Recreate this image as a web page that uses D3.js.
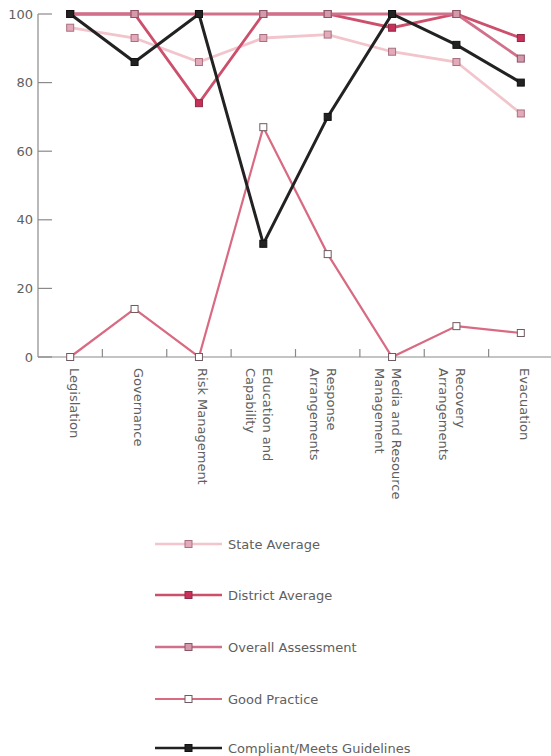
<!DOCTYPE html>
<html>
<head>
<meta charset="utf-8">
<script src="https://cdn.jsdelivr.net/npm/d3@7"></script>
<style>
  html, body { margin: 0; padding: 0; background: #fff; }
  svg { display: block; }
  text { font-family: "DejaVu Sans", sans-serif; fill: #606060; }
</style>
</head>
<body>
<svg id="chart" width="551" height="756"></svg>
<script>
const categories = ["Legislation", "Governance", "Risk Management", "Education and Capability",
  "Response Arrangements", "Media and Resource Management", "Recovery Arrangements", "Evacuation"];
const categoryLines = [["Legislation"], ["Governance"], ["Risk Management"], ["Education and", "Capability"],
  ["Response", "Arrangements"], ["Media and Resource", "Management"], ["Recovery", "Arrangements"], ["Evacuation"]];
const yTicks = [0, 20, 40, 60, 80, 100];

const stateAverage    = [96, 93, 86, 93, 94, 89, 86, 71];
const districtAverage = [100, 100, 74, 100, 100, 96, 100, 93];
const overallAssess   = [100, 100, 100, 100, 100, 100, 100, 87];
const goodPractice    = [0, 14, 0, 67, 30, 0, 9, 7];
const compliant       = [100, 86, 100, 33, 70, 100, 91, 80];

const seriesNames = ["State Average", "District Average", "Overall Assessment", "Good Practice", "Compliant/Meets Guidelines"];
const seriesValues = [stateAverage, districtAverage, overallAssess, goodPractice, compliant];
const seriesStyle = [
  { line: "#f2c4cc", width: 2.8, fill: "#e3aabb", stroke: "#a8707f" },
  { line: "#cc506c", width: 2.8, fill: "#c8305a", stroke: "#8e2a44" },
  { line: "#d0708a", width: 2.8, fill: "#d49aab", stroke: "#8a5566" },
  { line: "#d86a82", width: 2.2, fill: "#ffffff", stroke: "#6e5a60" },
  { line: "#222222", width: 3, fill: "#222222", stroke: "#111111" }
];

const svg = d3.select("#chart");
const x = d3.scaleBand().domain(categories).range([38, 553]).padding(0);
const y = d3.scaleLinear().domain([0, 100]).range([357, 14]);
const cx = c => x(c) + x.bandwidth() / 2;

// axes
const axisColor = "#8a8a8a";
svg.append("line").attr("x1", 38).attr("x2", 38).attr("y1", y(100)).attr("y2", y(0))
  .attr("stroke", axisColor).attr("stroke-width", 1.2);
svg.append("line").attr("x1", 38).attr("x2", 551).attr("y1", y(0)).attr("y2", y(0))
  .attr("stroke", axisColor).attr("stroke-width", 1.2);

yTicks.forEach(t => {
  svg.append("line").attr("x1", 38).attr("x2", 52).attr("y1", y(t)).attr("y2", y(t))
    .attr("stroke", axisColor).attr("stroke-width", 1.2);
  svg.append("text").attr("x", 33).attr("y", y(t)).attr("dy", "0.35em")
    .attr("text-anchor", "end").attr("font-size", 13).text(t);
});

categories.slice(1).forEach(c => {
  svg.append("line").attr("x1", x(c)).attr("x2", x(c)).attr("y1", y(0)).attr("y2", y(0) - 8)
    .attr("stroke", axisColor).attr("stroke-width", 1.2);
});

categories.forEach((c, i) => {
  const g = svg.append("g").attr("transform", `translate(${cx(c) + 4},368) rotate(90)`);
  categoryLines[i].forEach((ln, j) => {
    g.append("text").attr("x", 0).attr("y", 17 * j).attr("dy", "0.35em")
      .attr("font-size", 13).text(ln);
  });
});

// series
const line = d3.line().x((d, i) => cx(categories[i])).y(d => y(d));
seriesValues.forEach((vals, k) => {
  const s = seriesStyle[k];
  svg.append("path").datum(vals).attr("d", line).attr("fill", "none")
    .attr("stroke", s.line).attr("stroke-width", s.width).attr("stroke-linejoin", "miter");
  svg.selectAll(null).data(vals).enter().append("rect")
    .attr("x", (d, i) => cx(categories[i]) - 3.5).attr("y", d => y(d) - 3.5)
    .attr("width", 7).attr("height", 7)
    .attr("fill", s.fill).attr("stroke", s.stroke).attr("stroke-width", 1);
});

// legend
const legendY = [544, 595, 647, 699, 748];
seriesNames.forEach((name, k) => {
  const s = seriesStyle[k];
  const ly = legendY[k];
  svg.append("line").attr("x1", 155).attr("x2", 222).attr("y1", ly).attr("y2", ly)
    .attr("stroke", s.line).attr("stroke-width", Math.min(s.width, 2.5));
  svg.append("rect").attr("x", 185).attr("y", ly - 3.5).attr("width", 7).attr("height", 7)
    .attr("fill", s.fill).attr("stroke", s.stroke).attr("stroke-width", 1);
  svg.append("text").attr("x", 228).attr("y", ly).attr("dy", "0.35em")
    .attr("font-size", 13).text(name);
});
</script>
</body>
</html>
